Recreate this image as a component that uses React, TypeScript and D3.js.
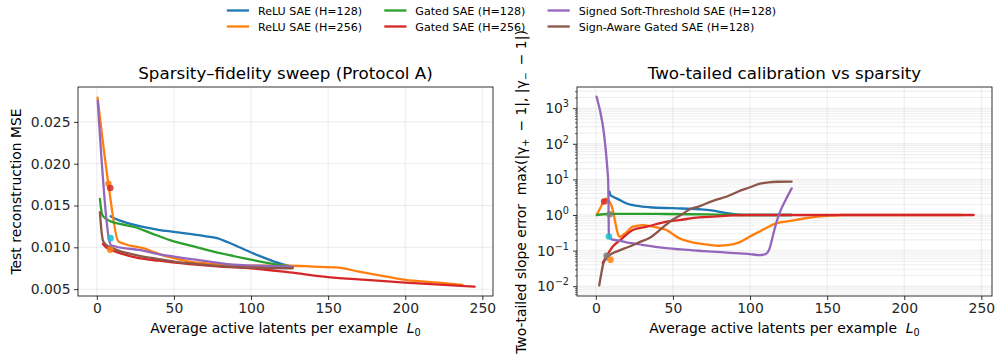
import * as d3 from "d3";
import { useEffect, useRef } from "react";

// tab10 palette, in legend order
const seriesNames = [
  "ReLU SAE (H=128)",
  "ReLU SAE (H=256)",
  "Gated SAE (H=128)",
  "Gated SAE (H=256)",
  "Signed Soft-Threshold SAE (H=128)",
  "Sign-Aware Gated SAE (H=128)",
];
const seriesColors = ["#1f77b4", "#ff7f0e", "#2ca02c", "#d62728", "#9467bd", "#8c564b"];

// Left panel: test MSE vs L0
const relu128MseL0 = [8.9, 11, 20, 30, 40, 50, 60, 70, 78, 85, 95, 105, 115, 127];
const relu128Mse = [0.01372, 0.0135, 0.0129, 0.01245, 0.0121, 0.01185, 0.0116, 0.01135, 0.0111, 0.0106, 0.0098, 0.009, 0.0083, 0.00765];
const relu256MseL0 = [0.5, 7.5, 14, 18, 24, 30, 36, 42, 50, 60, 70, 85, 100, 125, 140, 155, 170, 185, 200, 220, 237];
const relu256Mse = [0.0279, 0.0176, 0.0107, 0.0104, 0.0101, 0.0099, 0.0095, 0.0091, 0.0087, 0.0083, 0.0081, 0.0079, 0.0078, 0.0078, 0.0077, 0.0076, 0.0071, 0.0066, 0.0061, 0.0058, 0.0055];
const gated128MseL0 = [2, 3.5, 6, 9, 15, 25, 35, 50, 65, 80, 95, 106, 118, 127];
const gated128Mse = [0.0158, 0.0139, 0.0134, 0.0131, 0.0128, 0.0124, 0.0117, 0.0107, 0.01, 0.0093, 0.0087, 0.0083, 0.0079, 0.0076];
const gated256MseL0 = [4, 6, 9, 15, 25, 40, 60, 80, 100, 125, 150, 175, 200, 225, 245];
const gated256Mse = [0.0104, 0.01, 0.0097, 0.0093, 0.0088, 0.0084, 0.008, 0.0077, 0.0075, 0.007, 0.00643, 0.0061, 0.00579, 0.0055, 0.0053];
const signedMseL0 = [0.6, 8, 9, 12, 18, 27, 40, 50, 65, 85, 105, 127];
const signedMse = [0.0275, 0.0109, 0.0103, 0.0101, 0.0099, 0.0097, 0.0092, 0.0089, 0.0085, 0.008, 0.0078, 0.0077];
const signAwareMseL0 = [2, 3, 4, 6, 9, 14, 20, 30, 40, 50, 65, 85, 106, 127];
const signAwareMse = [0.0142, 0.012, 0.0108, 0.0103, 0.01, 0.0096, 0.0093, 0.0089, 0.0086, 0.0083, 0.008, 0.0077, 0.00755, 0.0075];

// Right panel: two-tailed slope error vs L0
const relu128SlopeL0 = [8.9, 9.5, 11, 15, 20, 27, 35, 50, 67, 75, 85, 93, 100, 110, 127];
const relu128Slope = [4.5, 3.6, 3.3, 2.7, 2.1, 1.8, 1.65, 1.55, 1.45, 1.35, 1.12, 1.02, 1.0, 1.0, 1.0];
const relu256SlopeL0 = [0.5, 3, 6.7, 10, 15.5, 20, 24, 30.5, 36, 45.7, 54.3, 60.8, 73.7, 80, 86.7, 93, 99.6, 106, 117, 126, 136, 150, 160, 200, 237];
const relu256Slope = [1.0, 1.6, 2.9, 1.9, 0.245, 0.33, 0.47, 0.52, 0.48, 0.38, 0.22, 0.178, 0.144, 0.137, 0.144, 0.17, 0.245, 0.34, 0.58, 0.68, 0.81, 0.94, 1.0, 1.0, 1.0];
const gated128SlopeL0 = [0.8, 5, 10, 20, 30, 40, 60, 80, 100, 127];
const gated128Slope = [1.0, 1.05, 1.07, 1.08, 1.08, 1.07, 1.05, 1.03, 1.0, 1.0];
const gated256SlopeL0 = [4.5, 7, 11, 16, 24, 33, 46, 54, 67, 76, 89, 100, 120, 150, 200, 245];
const gated256Slope = [0.045, 0.07, 0.13, 0.2, 0.38, 0.47, 0.65, 0.72, 0.86, 0.9, 0.97, 1.0, 1.0, 1.0, 1.0, 1.0];
const signedSlopeL0 = [0.5, 8, 8.5, 10, 15, 20, 30, 40, 55, 70, 85, 100, 106, 110, 112.5, 115, 117, 119, 123, 127];
const signedSlope = [2100, 10, 0.26, 0.21, 0.19, 0.17, 0.145, 0.125, 0.108, 0.097, 0.088, 0.08, 0.075, 0.08, 0.11, 0.28, 0.6, 1.1, 2.6, 5.6];
const signAwareSlopeL0 = [2.2, 3.5, 5, 7, 9, 15, 22, 28, 35, 43.5, 50, 56, 61, 67, 76, 85, 92, 100, 106, 112, 118, 127];
const signAwareSlope = [0.0105, 0.022, 0.045, 0.06, 0.075, 0.1, 0.13, 0.17, 0.23, 0.45, 0.75, 1.05, 1.45, 1.75, 2.5, 3.3, 4.5, 6.0, 7.5, 8.3, 8.6, 8.7];

// highlighted operating points
const leftMarkL0 = [7.5, 8.7, 8.9, 8.7];
const leftMarkVal = [0.0176, 0.0171, 0.0111, 0.0097];
const leftMarkColor = ["#ff7f0e", "#d62728", "#17becf", "#ff7f0e"];
const rightMarkL0 = [5.4, 8.5, 9, 7, 9.5];
const rightMarkVal = [2.4, 0.25, 1.05, 0.072, 0.055];
const rightMarkColor = ["#d62728", "#17becf", "#7f7f7f", "#7f7f7f", "#ff7f0e"];

const xTicks = [0, 50, 100, 150, 200, 250];
const mseTicks = [0.005, 0.01, 0.015, 0.02, 0.025];
const logExps = [-2, -1, 0, 1, 2, 3];

const FONT = "DejaVu Sans, sans-serif";
const TICK_FS = 13.9;
const LABEL_FS = 13.9;
const TITLE_FS = 16.7;
const LEGEND_FS = 11.1;

export default function App() {
  const svgRef = useRef<SVGSVGElement | null>(null);
  const width = 995;
  const height = 354;

  useEffect(() => {
    const svg = d3.select(svgRef.current);
    svg.selectAll("*").remove();

    const top = 87;
    const bottom = 296;
    const xDomain: [number, number] = [-12.2, 256.9];

    const leftX = d3.scaleLinear().domain(xDomain).range([78, 493]);
    const rightX = d3.scaleLinear().domain(xDomain).range([577, 992]);
    const mseY = d3.scaleLinear().domain([0.00418, 0.02917]).range([bottom, top]);
    const slopeY = d3
      .scaleLog()
      .domain([Math.pow(10, -2.275), Math.pow(10, 3.595)])
      .range([bottom, top]);

    const leftData = [
      [relu128MseL0, relu128Mse],
      [relu256MseL0, relu256Mse],
      [gated128MseL0, gated128Mse],
      [gated256MseL0, gated256Mse],
      [signedMseL0, signedMse],
      [signAwareMseL0, signAwareMse],
    ];
    const rightData = [
      [relu128SlopeL0, relu128Slope],
      [relu256SlopeL0, relu256Slope],
      [gated128SlopeL0, gated128Slope],
      [gated256SlopeL0, gated256Slope],
      [signedSlopeL0, signedSlope],
      [signAwareSlopeL0, signAwareSlope],
    ];

    const drawPanel = (
      id: string,
      x: d3.ScaleLinear<number, number>,
      y: any,
      data: number[][][],
      markX: number[],
      markY: number[],
      markC: string[],
      isLog: boolean,
      title: string,
    ) => {
      const [x0, x1] = x.range();
      const g = svg.append("g");

      g.append("clipPath")
        .attr("id", id)
        .append("rect")
        .attr("x", x0)
        .attr("y", top)
        .attr("width", x1 - x0)
        .attr("height", bottom - top);

      // log minor tick values
      const minors: number[] = [];
      if (isLog) {
        for (let e = -3; e <= 3; e++) {
          for (let m = 2; m <= 9; m++) {
            const v = m * Math.pow(10, e);
            if (y(v) <= bottom && y(v) >= top) minors.push(v);
          }
        }
      }

      // grid
      const grid = g.append("g");
      grid
        .selectAll("line.minor")
        .data(minors)
        .enter()
        .append("line")
        .attr("x1", x0)
        .attr("x2", x1)
        .attr("y1", (d) => y(d))
        .attr("y2", (d) => y(d))
        .attr("stroke", "#b0b0b0")
        .attr("stroke-opacity", 0.28)
        .attr("stroke-width", 0.8);
      const yMajor = isLog ? logExps.map((e) => Math.pow(10, e)) : mseTicks;
      grid
        .selectAll("line.ymaj")
        .data(yMajor)
        .enter()
        .append("line")
        .attr("x1", x0)
        .attr("x2", x1)
        .attr("y1", (d) => y(d))
        .attr("y2", (d) => y(d))
        .attr("stroke", "#b0b0b0")
        .attr("stroke-opacity", 0.3)
        .attr("stroke-width", 0.8);
      grid
        .selectAll("line.xmaj")
        .data(xTicks)
        .enter()
        .append("line")
        .attr("x1", (d) => x(d))
        .attr("x2", (d) => x(d))
        .attr("y1", top)
        .attr("y2", bottom)
        .attr("stroke", "#b0b0b0")
        .attr("stroke-opacity", 0.3)
        .attr("stroke-width", 0.8);

      // lines
      const plot = g.append("g").attr("clip-path", `url(#${id})`);
      data.forEach(([xs, ys], i) => {
        const line = d3
          .line<number>()
          .x((d) => x(d))
          .y((d, j) => y(ys[j]))
          .curve(d3.curveMonotoneX);
        plot
          .append("path")
          .datum(xs)
          .attr("fill", "none")
          .attr("stroke", seriesColors[i])
          .attr("stroke-width", 2.3)
          .attr("stroke-linejoin", "round")
          .attr("stroke-linecap", "round")
          .attr("d", line);
      });

      plot
        .selectAll("circle")
        .data(markX)
        .enter()
        .append("circle")
        .attr("cx", (d) => x(d))
        .attr("cy", (d, i) => y(markY[i]))
        .attr("r", 3.3)
        .attr("fill", (d, i) => markC[i])
        .attr("fill-opacity", 0.85);

      // frame
      g.append("rect")
        .attr("x", x0)
        .attr("y", top)
        .attr("width", x1 - x0)
        .attr("height", bottom - top)
        .attr("fill", "none")
        .attr("stroke", "#000")
        .attr("stroke-width", 0.8);

      // x axis
      const xAxis = g
        .append("g")
        .attr("transform", `translate(0,${bottom})`)
        .call(d3.axisBottom(x).tickValues(xTicks).tickSize(4).tickPadding(3).tickSizeOuter(0));
      xAxis.select(".domain").remove();
      xAxis.selectAll("line").attr("stroke", "#000").attr("stroke-width", 0.8);
      xAxis.selectAll("text").attr("font-family", FONT).attr("font-size", TICK_FS).attr("fill", "#262626");

      // y axis
      if (isLog) {
        const minorAxis = g
          .append("g")
          .attr("transform", `translate(${x0},0)`)
          .call(d3.axisLeft(y).tickValues(minors).tickSize(2).tickFormat(() => "").tickSizeOuter(0));
        minorAxis.select(".domain").remove();
        minorAxis.selectAll("line").attr("stroke", "#000").attr("stroke-width", 0.6);

        const yAxis = g
          .append("g")
          .attr("transform", `translate(${x0},0)`)
          .call(d3.axisLeft(y).tickValues(yMajor).tickSize(4).tickFormat(() => "").tickSizeOuter(0));
        yAxis.select(".domain").remove();
        yAxis.selectAll("line").attr("stroke", "#000").attr("stroke-width", 0.8);

        const labels = g
          .selectAll("text.logtick")
          .data(logExps)
          .enter()
          .append("text")
          .attr("x", x0 - 8)
          .attr("y", (d) => y(Math.pow(10, d)) + 5)
          .attr("text-anchor", "end")
          .attr("font-family", FONT)
          .attr("font-size", TICK_FS)
          .attr("fill", "#262626");
        labels.append("tspan").text("10");
        labels
          .append("tspan")
          .attr("dy", -6)
          .attr("font-size", 9.7)
          .text((d) => (d < 0 ? `\u2212${-d}` : `${d}`));
      } else {
        const yAxis = g
          .append("g")
          .attr("transform", `translate(${x0},0)`)
          .call(
            d3
              .axisLeft(y)
              .tickValues(yMajor)
              .tickSize(4)
              .tickPadding(3.5)
              .tickFormat((d: any) => d3.format(".3f")(d))
              .tickSizeOuter(0),
          );
        yAxis.select(".domain").remove();
        yAxis.selectAll("line").attr("stroke", "#000").attr("stroke-width", 0.8);
        yAxis.selectAll("text").attr("font-family", FONT).attr("font-size", TICK_FS).attr("fill", "#262626");
      }

      // title
      g.append("text")
        .attr("x", (x0 + x1) / 2)
        .attr("y", 79)
        .attr("text-anchor", "middle")
        .attr("font-family", FONT)
        .attr("font-size", TITLE_FS)
        .attr("fill", "#000")
        .text(title);

      // x label
      const xl = g
        .append("text")
        .attr("x", (x0 + x1) / 2)
        .attr("y", 333)
        .attr("text-anchor", "middle")
        .attr("font-family", FONT)
        .attr("font-size", LABEL_FS)
        .attr("fill", "#000");
      xl.append("tspan").text("Average active latents per example\u00a0\u00a0");
      xl.append("tspan").attr("font-style", "italic").text("L");
      xl.append("tspan").attr("dy", 3).attr("font-size", 9.7).text("0");
    };

    drawPanel("clipL", leftX, mseY, leftData, leftMarkL0, leftMarkVal, leftMarkColor, false, "Sparsity\u2013fidelity sweep (Protocol A)");
    drawPanel("clipR", rightX, slopeY, rightData, rightMarkL0, rightMarkVal, rightMarkColor, true, "Two-tailed calibration vs sparsity");

    // y labels
    svg
      .append("text")
      .attr("transform", `translate(21,191.5) rotate(-90)`)
      .attr("text-anchor", "middle")
      .attr("font-family", FONT)
      .attr("font-size", LABEL_FS)
      .text("Test reconstruction MSE");

    const ry = svg
      .append("text")
      .attr("transform", `translate(526,192) rotate(-90)`)
      .attr("text-anchor", "middle")
      .attr("font-family", FONT)
      .attr("font-size", LABEL_FS);
    ry.append("tspan").text("Two-tailed slope error\u00a0\u00a0max(|\u03b3");
    ry.append("tspan").attr("dy", 3).attr("font-size", 9.7).text("+");
    ry.append("tspan").attr("dy", -3).text("\u2002\u2212\u00a01|,\u00a0|\u03b3");
    ry.append("tspan").attr("dy", 3).attr("font-size", 9.7).text("\u2212");
    ry.append("tspan").attr("dy", -3).text("\u2002\u2212\u00a01|)");

    // legend, 3 columns filled column-wise, matplotlib-like spacing
    const handleLen = 2 * LEGEND_FS;
    const textPad = 0.8 * LEGEND_FS;
    const colGap = 2 * LEGEND_FS;
    const legend = svg.append("g");
    const measure = legend
      .append("text")
      .attr("font-family", FONT)
      .attr("font-size", LEGEND_FS)
      .attr("visibility", "hidden");
    const textW = seriesNames.map((n) => {
      measure.text(n);
      return (measure.node() as SVGTextElement).getComputedTextLength();
    });
    measure.remove();
    const colW = [0, 1, 2].map((c) => Math.max(textW[c * 2], textW[c * 2 + 1]));
    const totalW = colW.reduce((a, b) => a + b, 0) + 3 * (handleLen + textPad) + 2 * colGap;
    const rowY = [10.5, 26.5];
    let cx = 501.5 - totalW / 2;
    [0, 1, 2].forEach((c) => {
      [0, 1].forEach((r) => {
        const i = c * 2 + r;
        const cy = rowY[r];
        legend
          .append("line")
          .attr("x1", cx)
          .attr("x2", cx + handleLen)
          .attr("y1", cy)
          .attr("y2", cy)
          .attr("stroke", seriesColors[i])
          .attr("stroke-width", 2.3);
        legend
          .append("text")
          .attr("x", cx + handleLen + textPad)
          .attr("y", cy + 4)
          .attr("font-family", FONT)
          .attr("font-size", LEGEND_FS)
          .attr("fill", "#000")
          .text(seriesNames[i]);
      });
      cx += handleLen + textPad + colW[c] + colGap;
    });
  }, []);

  return (
    <svg
      ref={svgRef}
      width={width}
      height={height}
      style={{ position: "absolute", left: 0, top: 0, background: "#fff" }}
    ></svg>
  );
}
